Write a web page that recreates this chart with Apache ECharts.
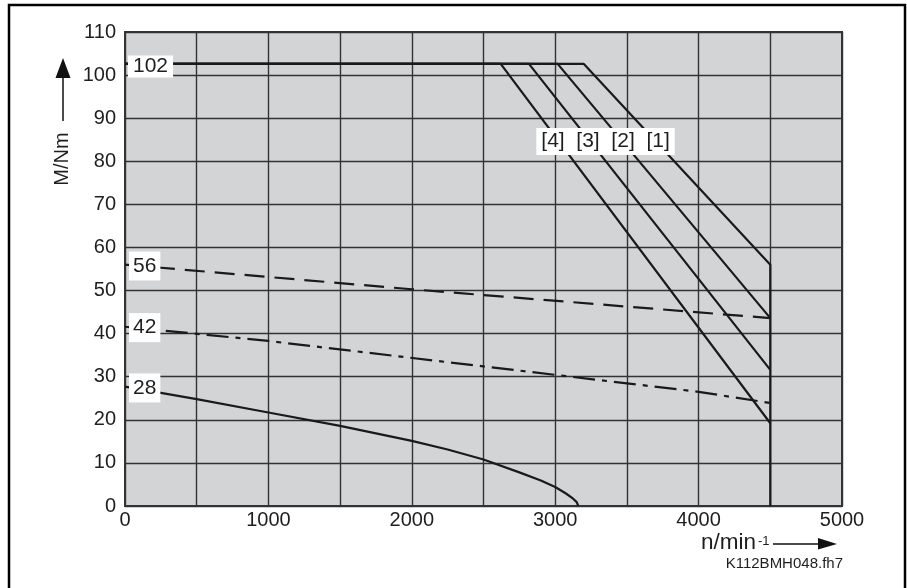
<!DOCTYPE html>
<html>
<head>
<meta charset="utf-8">
<script src="https://cdn.jsdelivr.net/npm/echarts@6/dist/echarts.min.js"></script>
<style>
html,body{margin:0;padding:0;background:#fff;}
#c{width:907px;height:588px;}
</style>
</head>
<body>
<div id="c"></div>
<script>
// ---- data (n in 1/min, M in Nm) ----
var curve1 = [[0, 102.6], [3200, 102.6], [4500, 56], [4500, 0]];
var curve2 = [[0, 102.6], [3017, 102.6], [4500, 43.6]];
var curve3 = [[0, 102.6], [2817, 102.6], [4500, 31.6]];
var curve4 = [[0, 102.6], [2620, 102.6], [4500, 19.2]];
var dashedCurve = [[0, 56], [2000, 50.3], [4500, 43.6]];
var dashDotCurve = [[0, 41.6], [1000, 38.3], [4000, 26.5], [4500, 23.9]];
var solidCurve = [[0, 27.7], [500, 24.8], [1000, 21.7], [1500, 18.6], [2000, 15.1], [2250, 13.1], [2500, 10.8], [2750, 7.8], [2900, 5.9], [3000, 4.4], [3075, 2.9], [3125, 1.7], [3150, 0.9], [3161, 0]];
var topLabel = [[0, 102, '102']];
var valueLabels = [[0, 55.7, '56'], [0, 41.4, '42'], [0, 27.4, '28']];
var curveLabel = [[3351, 84.6, '[4]  [3]  [2]  [1]']];
var xTicks = [0, 1000, 2000, 3000, 4000, 5000];

var FONT = '"Liberation Sans", Arial, sans-serif';
var INK = '#1a1a1a';

var chart = echarts.init(document.getElementById('c'), null, {renderer: 'canvas'});

function lineSeries(data, type) {
  return {
    type: 'line', data: data, symbol: 'none', animation: false, z: 3,
    lineStyle: {color: INK, width: 2.2, type: type || 'solid', join: 'round'}
  };
}

var labelBase = {
  show: true, formatter: function (p) { return p.data[2]; },
  fontFamily: FONT, fontSize: 21, color: '#1e1e1e', opacity: 1,
  backgroundColor: '#ffffff', lineHeight: 21
};

function labelSeries(data, labelOpts) {
  return {
    type: 'scatter', data: data, symbolSize: 0, z: 10, animation: false,
    itemStyle: {opacity: 1},
    label: Object.assign({}, labelBase, labelOpts),
    emphasis: {disabled: true}
  };
}

var option = {
  animation: false,
  backgroundColor: '#fff',
  grid: {
    left: 125, top: 32, right: 65, bottom: 82,
    containLabel: false, outerBoundsMode: 'none',
    show: true, backgroundColor: '#d3d4d6', borderColor: '#333', borderWidth: 2
  },
  xAxis: {
    type: 'value', min: 0, max: 5000, interval: 500,
    axisLine: {show: true, lineStyle: {color: '#333', width: 2}},
    axisTick: {show: false},
    splitLine: {show: true, lineStyle: {color: '#333', width: 1.4}},
    axisLabel: {
      fontFamily: FONT, fontSize: 20, color: '#1e1e1e', margin: 4,
      formatter: function (v) { return xTicks.indexOf(v) >= 0 ? String(v) : ''; }
    }
  },
  yAxis: {
    type: 'value', min: 0, max: 110, interval: 10,
    axisLine: {show: true, lineStyle: {color: '#333', width: 2}},
    axisTick: {show: false},
    splitLine: {show: true, lineStyle: {color: '#333', width: 1.4}},
    axisLabel: {fontFamily: FONT, fontSize: 20, color: '#1e1e1e', margin: 9}
  },
  series: [
    lineSeries(curve1),
    lineSeries(curve2),
    lineSeries(curve3),
    lineSeries(curve4),
    lineSeries(dashedCurve, [20, 10]),
    lineSeries(dashDotCurve, [22, 7, 5, 7]),
    lineSeries(solidCurve),
    labelSeries(topLabel, {position: 'right', distance: 3, padding: [1, 5, 0, 5]}),
    labelSeries(valueLabels, {position: 'right', distance: 4, padding: [4, 4, 4, 4]}),
    labelSeries(curveLabel, {position: 'inside', padding: [3, 5, 3, 5]})
  ],
  graphic: [
    // outer frame (open at bottom)
    {type: 'polyline', z: 100, shape: {points: [[9, 590], [9, 5], [905, 5], [905, 590]]},
     style: {stroke: '#000', lineWidth: 2.5, fill: null}},
    // y-axis title and arrow
    {type: 'text', x: 62.5, y: 159, rotation: Math.PI / 2, z: 100,
     style: {text: 'M/Nm', fontFamily: FONT, fontSize: 20, fill: '#1e1e1e', align: 'center', verticalAlign: 'middle'}},
    {type: 'line', z: 100, shape: {x1: 63, y1: 121, x2: 63, y2: 76}, style: {stroke: '#111', lineWidth: 1.5}},
    {type: 'polygon', z: 100, shape: {points: [[55.5, 78], [70.5, 78], [63, 58]]}, style: {fill: '#111'}},
    // x-axis title and arrow
    {type: 'text', x: 701, y: 542.5, z: 100,
     style: {text: 'n/min', fontFamily: FONT, fontSize: 22.5, fill: '#1e1e1e', align: 'left', verticalAlign: 'middle'}},
    {type: 'text', x: 758, y: 541, z: 100,
     style: {text: '-1', fontFamily: FONT, fontSize: 13, fill: '#1e1e1e', align: 'left', verticalAlign: 'middle'}},
    {type: 'line', z: 100, shape: {x1: 773, y1: 544, x2: 820, y2: 544}, style: {stroke: '#111', lineWidth: 1.5}},
    {type: 'polygon', z: 100, shape: {points: [[818, 538], [818, 549.5], [837, 544]]}, style: {fill: '#111'}},
    // figure id
    {type: 'text', x: 843, y: 563.7, z: 100,
     style: {text: 'K112BMH048.fh7', fontFamily: FONT, fontSize: 15, fill: '#1e1e1e', align: 'right', verticalAlign: 'middle'}}
  ]
};
chart.setOption(option);
</script>
</body>
</html>
